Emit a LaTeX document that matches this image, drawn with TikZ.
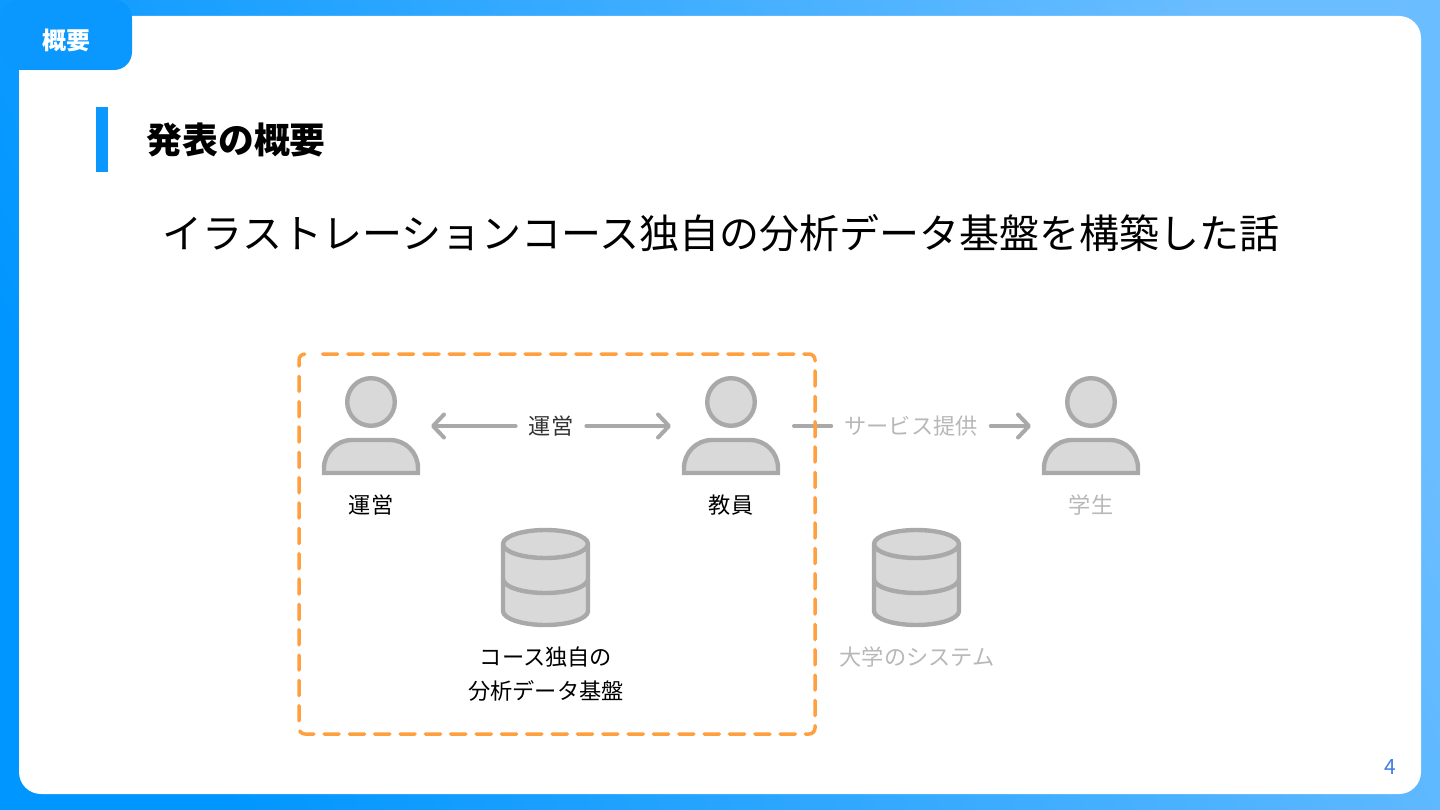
\documentclass[tikz,border=0pt]{standalone}
\usepackage{fontspec}
\setmainfont{Noto Sans CJK JP}
\usetikzlibrary{arrows.meta}
\definecolor{brandblue}{HTML}{0A98FF}
\definecolor{gradL}{HTML}{0096FF}
\definecolor{gradM}{HTML}{18A0FF}
\definecolor{gradR}{HTML}{6ABDFF}
\definecolor{iconline}{HTML}{A9A9A9}
\definecolor{iconfill}{HTML}{D9D9D9}
\definecolor{frameorange}{HTML}{FFA040}
\definecolor{fadedtext}{HTML}{B8B8B8}
\definecolor{pagenum}{HTML}{3F7DE8}
\newcommand{\fsz}[1]{\fontsize{#1}{#1}\selectfont}
\tikzset{
  iconshape/.style={draw=iconline,fill=iconfill,line width=4.4pt,line join=round},
  lbl/.style={inner sep=0pt,text=black,font=\fsz{22.2}},
  lblfaded/.style={lbl,text=fadedtext},
  lblmid/.style={lbl,text=black!80},
  conn/.style={draw=iconline,line width=4pt,line cap=round},
  tipped/.style={-{Straight Barb[length=11pt,width=23pt,line width=4pt,round]}},
  pics/person/.style={code={
    \draw[iconshape] (0,0) circle (23.8);
    \draw[iconshape,line join=miter] (-47,71) -- (-47,66) arc[start angle=180,end angle=270,radius=28] -- (19,38) arc[start angle=270,end angle=360,radius=28] -- (47,71) -- cycle;
  }},
  pics/dbicon/.style={code={
    \draw[iconshape] (-42.5,0) -- (-42.5,67) arc[start angle=180,end angle=0,x radius=42.5,y radius=14] -- (42.5,0) arc[start angle=0,end angle=-180,x radius=42.5,y radius=14] -- cycle;
    \draw[iconline,line width=4.4pt] (-42.5,0) arc[start angle=180,end angle=0,x radius=42.5,y radius=14];
    \draw[iconline,line width=4.4pt] (-42.5,35) arc[start angle=180,end angle=0,x radius=42.5,y radius=14];
  }},
}
\begin{document}
\begin{tikzpicture}[x=1pt,y=-1pt]
\useasboundingbox (0,0) rectangle (1440,810);
\shade[left color=gradL,middle color=gradM,right color=gradR,shading angle=115] (0,0) rectangle (1440,810);
\fill[white,rounded corners=22pt] (19,16) rectangle (1421,794);
\fill[brandblue,rounded corners=18pt] (0,0) rectangle (132,70);
\node[inner sep=0pt,text=white,font=\fsz{24}\bfseries] (tab) at (66.8,40) {概要};
\fill[brandblue] (96,107) rectangle (108,172);
\node[inner sep=0pt,text=black,font=\fsz{35.8}\bfseries,anchor=west] (heading) at (146.5,140) {発表の概要};
\node[inner sep=0pt,text=black,font=\fsz{40},anchor=center] (subtitle) at (721,233) {イラストレーションコース独自の分析データ基盤を構築した話};

\pic at (371,402) {person};
\pic at (731,402) {person};
\pic at (1091,402) {person};
\node[lbl] (unei) at (371,505) {運営};
\node[lbl] (kyoin) at (731,505) {教員};
\node[lblfaded] (gakusei) at (1091,505) {学生};

\pic at (545.5,544) {dbicon};
\pic at (916.5,544) {dbicon};
\node[lbl] (db1a) at (546,657) {コース独自の};
\node[lbl] (db1b) at (546,691) {分析データ基盤};
\node[lblfaded] (db2) at (917,657) {大学のシステム};

\node[lblmid] (opl) at (551,426) {運営};
\node[lblfaded] (svc) at (911,426) {サービス提供};
\coordinate (a1) at (431,426);
\coordinate (a2) at (671,426);
\coordinate (b1) at (794,426);
\coordinate (b2) at (1031,426);
\draw[conn,tipped] (opl.west) ++(-13,0) -- (a1);
\draw[conn,tipped] (opl.east) ++(13,0) -- (a2);
\draw[conn] (svc.west) ++(-13,0) -- (b1);
\draw[conn,tipped] (svc.east) ++(13,0) -- (b2);

\draw[frameorange,line width=3.5pt,rounded corners=6pt,line cap=round,dash pattern=on 15.2pt off 10.14pt] (322.5,354) -- (815,354) -- (815,734) -- (299,734) -- (299,354) -- (306,354);

\node[inner sep=0pt,text=pagenum,font=\fsz{21}] (pg) at (1390,767) {4};
\end{tikzpicture}
\end{document}
